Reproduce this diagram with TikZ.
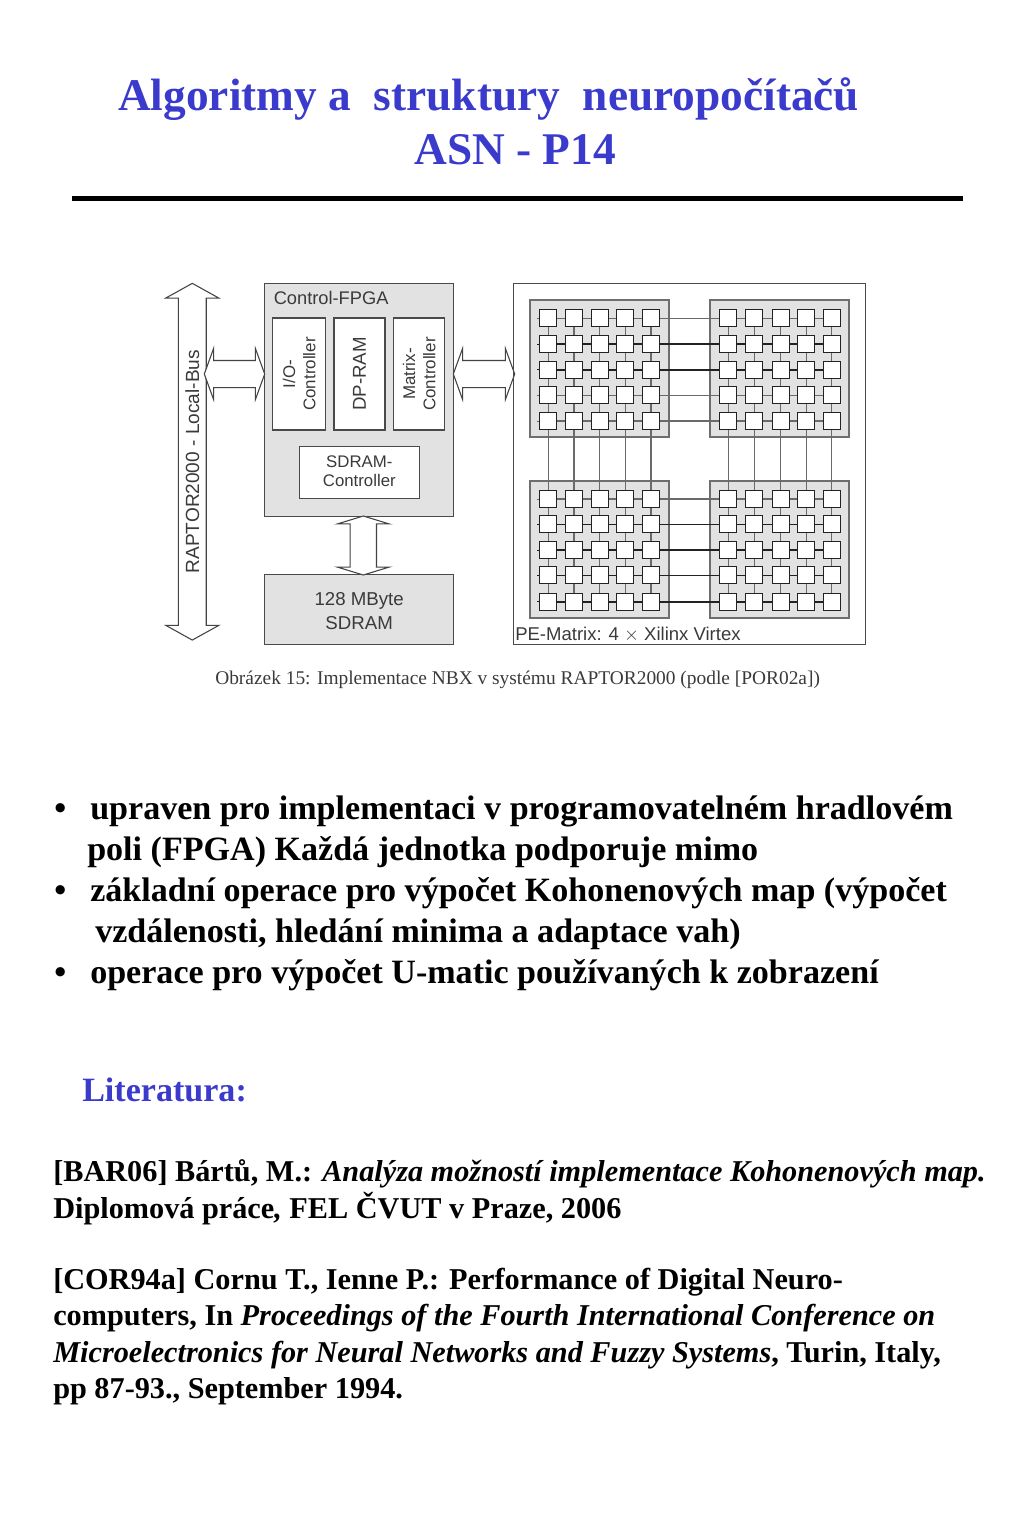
\documentclass[tikz,border=0pt]{standalone}
\usepackage{fontspec}
\usetikzlibrary{shapes.arrows}
\setmainfont{Liberation Serif}
\newfontfamily\diagfont{Liberation Sans}
\definecolor{titleblue}{HTML}{3A3ACC}
\definecolor{panelgray}{HTML}{E2E2E2}
\definecolor{edgegray}{HTML}{4A4A4A}
\definecolor{linklight}{HTML}{6A6A6A}
\definecolor{linkdark}{HTML}{222222}
\definecolor{diagtext}{HTML}{3A3A3A}
\newcommand{\fsz}[1]{\fontsize{#1}{#1}\selectfont}
\tikzset{
  x=0.75pt,y=-0.75pt,
  panel/.style={draw=edgegray,fill=panelgray,line width=0.8pt,inner sep=0pt,text=diagtext,font=\diagfont},
  innerbox/.style={draw=edgegray,fill=white,line width=0.8pt,inner sep=0pt,text=diagtext,font=\diagfont\fsz{12.7pt},align=center},
  pebox/.style={draw=linkdark,fill=white,line width=0.8pt,inner sep=0pt,minimum width=17.3*0.75pt,minimum height=17.3*0.75pt},
  pegroup/.style={draw=edgegray!80,fill=panelgray,line width=0.8pt,inner sep=0pt,minimum width=139*0.75pt,minimum height=137*0.75pt},
  busarrow/.style={shape=double arrow,draw=linkdark!85,fill=white,line width=0.8pt,inner xsep=0pt,text=diagtext,font=\diagfont},
  headline/.style={anchor=base west,inner sep=0pt,font=\bfseries\fsz{34pt},text=titleblue},
  bodyline/.style={anchor=base west,inner sep=0pt,font=\bfseries\fsz{25.55pt},text=black},
  refline/.style={anchor=base west,inner sep=0pt,font=\bfseries\fsz{22.7pt},text=black},
}
\begin{document}
\begin{tikzpicture}
\useasboundingbox (0,0) rectangle (1024,1536);

% Title
\node[headline] (title1) at (118,110) {Algoritmy a \ struktury \ neuropočítačů};
\node[headline] (title2) at (414,164) {ASN - P14};
\draw[line width=3.8pt,black] (72,198.5) -- (963,198.5);

% Left part of the figure
\node[busarrow,rotate=90,inner ysep=4.8pt,minimum height=356.7*0.75pt,minimum width=51*0.75pt,
  double arrow head extend=12.6*0.75pt,double arrow tip angle=122] (bus) at (192.3,461.7)
  {\fsz{14.3pt}RAPTOR2000 - Local-Bus};

\node[panel,minimum width=189*0.75pt,minimum height=232.7*0.75pt] (fpga) at (359.2,399.7) {};
\node[anchor=base west,inner sep=0pt,text=diagtext,font=\diagfont\fsz{13.7pt}] (fpgalabel) at (273.5,304.5) {Control-FPGA};
\node[innerbox,rotate=90,minimum width=112*0.75pt,minimum height=52.7*0.75pt] (io) at (299.3,374) {I/O-\\[2.5pt]Controller};
\node[innerbox,rotate=90,minimum width=112*0.75pt,minimum height=51*0.75pt,font=\diagfont\fsz{14pt}] (dpram) at (359.5,374) {DP-RAM};
\node[innerbox,rotate=90,minimum width=112*0.75pt,minimum height=51*0.75pt] (matrix) at (419.2,374) {Matrix-\\[2.5pt]Controller};
\node[innerbox,minimum width=120*0.75pt,minimum height=52.3*0.75pt] (sdctrl) at (359.3,472.8) {};
\node[inner sep=0pt,align=center,text=diagtext,font=\diagfont\fsz{12.6pt}] (sdctrltext) at (359.3,471.5) {SDRAM-\\[1.5pt]Controller};
\node[panel,minimum width=189*0.75pt,minimum height=69.3*0.75pt] (sdram) at (359.2,609.6) {};
\node[inner sep=0pt,align=center,text=diagtext,font=\diagfont\fsz{14pt}] (sdramtext) at (359.2,611) {128 MByte\\[4.5pt]SDRAM};

\node[busarrow,inner ysep=9.75pt,minimum height=60.4*0.75pt,minimum width=50.6*0.75pt,
  double arrow head extend=12.3*0.75pt,double arrow tip angle=140] (busfpga) at (234.5,374) {};
\node[busarrow,inner ysep=9.75pt,minimum height=61.4*0.75pt,minimum width=50.6*0.75pt,
  double arrow head extend=12.3*0.75pt,double arrow tip angle=140] (fpgape) at (484,374) {};
\node[busarrow,rotate=90,inner ysep=9.5pt,minimum height=59*0.75pt,minimum width=51.3*0.75pt,
  double arrow head extend=12.7*0.75pt,double arrow tip angle=146] (fpgasd) at (363.3,545.5) {};

% PE matrix
\node[draw=edgegray,line width=0.8pt,inner sep=0pt,minimum width=352*0.75pt,minimum height=360.7*0.75pt] (pematrix) at (689.7,463.7) {};
\node[anchor=base west,inner sep=0pt,text=diagtext,font=\diagfont\fsz{13.9pt}] (pelabel) at (515,640) {PE-Matrix: 4 $\times$ Xilinx Virtex};

\node[pegroup] (gA) at (599.5,368.5) {};
\node[pegroup] (gB) at (779.5,368.5) {};
\node[pegroup] (gC) at (599.5,549.5) {};
\node[pegroup] (gD) at (779.5,549.5) {};

\foreach \g/\xa/\xb/\xc/\xd/\xe/\ya/\yb/\yc/\yd/\ye in {
  A/548.3/574/599.7/625.3/651/318.3/344/369.7/395.3/421,
  B/728.3/754.3/780.7/806.3/831.7/318.3/344/369.7/395.3/421,
  C/548.3/574/599.7/625.3/651/499/524.3/550/575.3/601.7,
  D/728.3/754.3/780.7/806.3/831.7/499/524.3/550/575.3/601.7}{
  \foreach \c/\x in {1/\xa,2/\xb,3/\xc,4/\xd,5/\xe}{
    \foreach \r/\y in {1/\ya,2/\yb,3/\yc,4/\yd,5/\ye}{
      \node[pebox] (p\g\r\c) at (\x,\y) {};
    }
  }
}

% Links inside each group and between the groups, row by row
\foreach \ga/\gb/\r/\col/\w in {
  A/B/1/linklight/0.9,A/B/2/linkdark/1.2,A/B/3/linkdark/1.2,A/B/4/linklight/0.9,A/B/5/linklight/0.9,
  C/D/1/linklight/0.9,C/D/2/linkdark/1.2,C/D/3/linkdark/1.2,C/D/4/linkdark/1.2,C/D/5/linkdark/1.2}{
  \draw[draw=\col,line width=\w pt] (p\ga\r5) -- (p\gb\r1);
  \foreach \g in {\ga,\gb}{
    \foreach \c/\d in {1/2,2/3,3/4,4/5}{
      \draw[draw=\col,line width=\w pt] (p\g\r\c) -- (p\g\r\d);
    }
  }
  \draw[draw=\col,line width=0.6pt] (p\ga\r1.west) -- ++(-2,0);
}
\foreach \c in {1,...,5}{
  \foreach \g/\h in {A/C,B/D}{
    \draw[draw=linklight,line width=0.9pt] (p\g5\c) -- (p\h1\c);
    \foreach \r/\s in {1/2,2/3,3/4,4/5}{
      \draw[draw=linklight,line width=0.8pt] (p\g\r\c) -- (p\g\s\c);
      \draw[draw=linklight,line width=0.8pt] (p\h\r\c) -- (p\h\s\c);
    }
  }
}

% Caption
\node[anchor=base west,inner sep=0pt,font=\fsz{14.55pt},text=diagtext] (caption) at (215,684) {Obrázek 15: Implementace NBX v systému RAPTOR2000 (podle [POR02a])};

% Bullets
\node[bodyline] (b1) at (54,819) {•};
\node[bodyline] (l1) at (90,819) {upraven pro implementaci v programovatelném hradlovém};
\node[bodyline] (l2) at (87,860) {poli (FPGA) Každá jednotka podporuje mimo};
\node[bodyline] (b2) at (54,901) {•};
\node[bodyline] (l3) at (90,901) {základní operace pro výpočet Kohonenových map (výpočet};
\node[bodyline] (l4) at (95,942) {vzdálenosti, hledání minima a adaptace vah)};
\node[bodyline] (b3) at (54,983) {•};
\node[bodyline] (l5) at (90,983) {operace pro výpočet U-matic používaných k zobrazení};

% Literature
\node[bodyline,text=titleblue] (lit) at (82,1101) {Literatura:};
\node[refline] (r1) at (53,1181) {[BAR06] Bártů, M.: \textit{Analýza možností implementace Kohonenových map.}};
\node[refline] (r2) at (53,1218) {Diplomová práce\textit{,} FEL ČVUT v Praze, 2006};
\node[refline] (r3) at (53,1289) {[COR94a] Cornu T., Ienne P.: Performance of Digital Neuro-};
\node[refline] (r4) at (53,1325) {computers, In \textit{Proceedings of the Fourth International Conference on}};
\node[refline] (r5) at (53,1362) {\textit{Microelectronics for Neural Networks and Fuzzy Systems}, Turin, Italy,};
\node[refline] (r6) at (53,1398) {pp 87-93., September 1994.};
\end{tikzpicture}
\end{document}
